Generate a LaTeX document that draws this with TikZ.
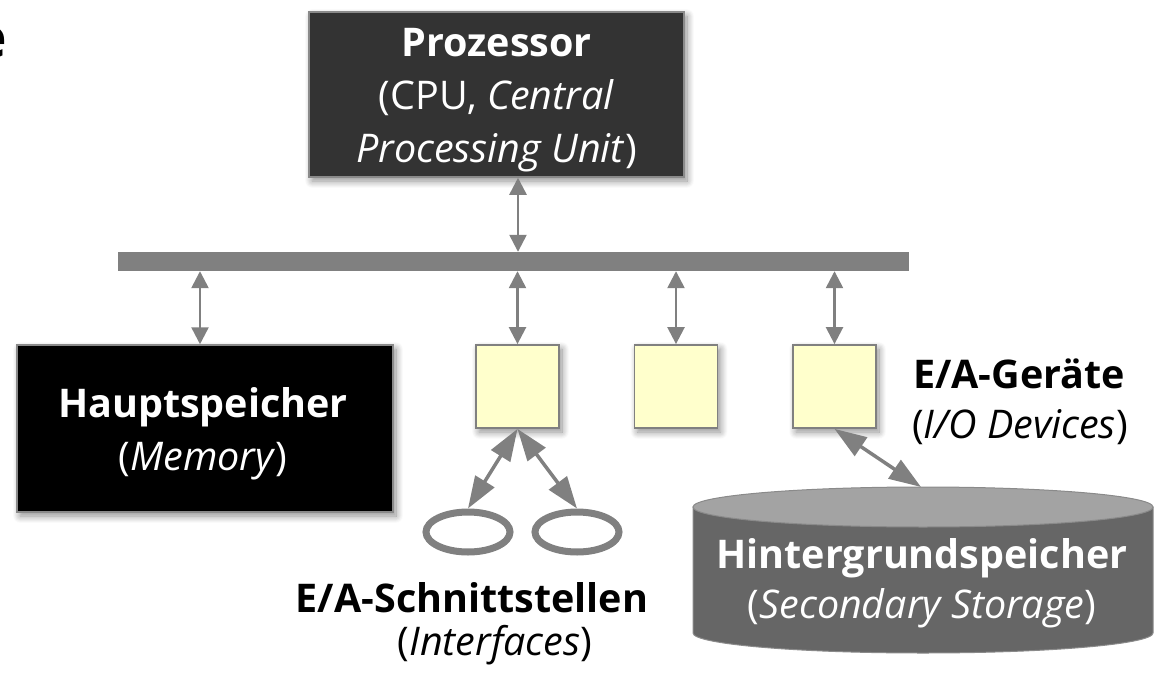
\documentclass[tikz,border=0pt]{standalone}
\usepackage{fontspec}
\setmainfont{Open Sans}
\usetikzlibrary{arrows.meta,shadows,shadows.blur,shapes.geometric}
\definecolor{conngray}{HTML}{808080}
\definecolor{cpufill}{HTML}{333333}
\definecolor{boxline}{HTML}{8A8A8A}
\definecolor{ioyellow}{HTML}{FFFFCC}
\definecolor{diskbody}{HTML}{666666}
\definecolor{disktopc}{HTML}{A3A3A3}
\tikzset{
  txt/.style={font=\fontsize{39.5}{53}\selectfont, inner sep=0pt, anchor=base},
  shadowed/.style={blur shadow={shadow xshift=3pt, shadow yshift=-4pt, shadow blur radius=7pt, shadow blur steps=10, shadow opacity=45}},
  cpubox/.style={rectangle, fill=cpufill, draw=boxline, line width=1.5pt, minimum width=375pt, minimum height=165pt, inner sep=0pt, shadowed},
  membox/.style={rectangle, fill=black, draw=boxline, line width=1.5pt, minimum width=376pt, minimum height=167pt, inner sep=0pt, shadowed},
  iobox/.style={rectangle, fill=ioyellow, draw=conngray, line width=1.8pt, minimum width=83pt, minimum height=83pt, inner sep=0pt, shadowed},
  busbar/.style={rectangle, fill=conngray, minimum width=791pt, minimum height=19pt, inner sep=0pt},
  ring/.style={ellipse, draw=conngray, line width=7pt, minimum width=84pt, minimum height=40pt, inner sep=0pt},
  busarrow/.style={draw=conngray, line width=2.5pt, {Triangle[length=17pt,width=17pt,fill=conngray]}-{Triangle[length=17pt,width=17pt,fill=conngray]}},
  bigarrow/.style={draw=conngray, line width=3.5pt, {Triangle[length=32pt,width=22pt,fill=conngray]}-{Triangle[length=32pt,width=22pt,fill=conngray]}},
}
\begin{document}
\begin{tikzpicture}[x=1pt,y=-1pt]
\useasboundingbox (0,0) rectangle (1159,674);

% cut-off letter at the top left (as in the reference)
\node[font=\fontsize{55}{60}\selectfont\bfseries, inner sep=0pt, anchor=base east] (cut) at (7,58) {e};

% processor
\node[cpubox] (cpu) at (496.5,94.5) {};
\node[txt,text=white] (cpuA) at (496.5,57) {\textbf{Prozessor}};
\node[txt,text=white] (cpuB) at (496.5,110) {(CPU, \textit{Central}};
\node[txt,text=white] (cpuC) at (496.5,163) {\textit{Processing Unit})};

% bus
\node[busbar] (bus) at (513.5,261.5) {};

% memory
\node[membox] (mem) at (205,428.5) {};
\node[txt,text=white] (memA) at (203,417) {\textbf{Hauptspeicher}};
\node[txt,text=white] (memB) at (203,470) {(\textit{Memory})};

% interfaces
\node[iobox] (b1) at (517.5,386.5) {};
\node[iobox] (b2) at (676,386.5) {};
\node[iobox] (b3) at (834.5,386.5) {};

% bus connectors
\draw[busarrow] ([xshift=21.5pt]cpu.south) -- ([xshift=21.5pt]cpu.south |- bus.north);
\draw[busarrow] ([xshift=-5pt]bus.south -| mem.north) -- ([xshift=-5pt]mem.north);
\draw[busarrow] (bus.south -| b1.north) -- (b1.north);
\draw[busarrow] (bus.south -| b2.north) -- (b2.north);
\draw[busarrow] (bus.south -| b3.north) -- (b3.north);

% devices (rings)
\node[ring] (e1) at (468,532) {};
\node[ring] (e2) at (577,532) {};
\draw[bigarrow] (b1.south) -- (e1.north);
\draw[bigarrow] (b1.south) -- (e2.north);

% secondary storage cylinder
\filldraw[fill=diskbody, draw=boxline, line width=1pt] (693,507) -- (693,633) arc[start angle=180, end angle=0, x radius=230, y radius=20] -- (1153,507) -- cycle;
\filldraw[fill=disktopc, draw=boxline, line width=1pt] (923,507) ellipse[x radius=230, y radius=20];
\coordinate (disktop) at (921,487);
\draw[bigarrow] (b3.south) -- (disktop);
\node[txt,text=white] (diskA) at (922,568) {\textbf{Hintergrundspeicher}};
\node[txt,text=white] (diskB) at (922,618) {(\textit{Secondary Storage})};

% labels
\node[txt] (ioA) at (1019,388) {\textbf{E/A-Geräte}};
\node[txt] (ioB) at (1020,438) {(\textit{I/O Devices})};
\node[txt] (ifA) at (472,612) {\textbf{E/A-Schnittstellen}};
\node[txt] (ifB) at (495,655) {(\textit{Interfaces})};
\end{tikzpicture}
\end{document}
